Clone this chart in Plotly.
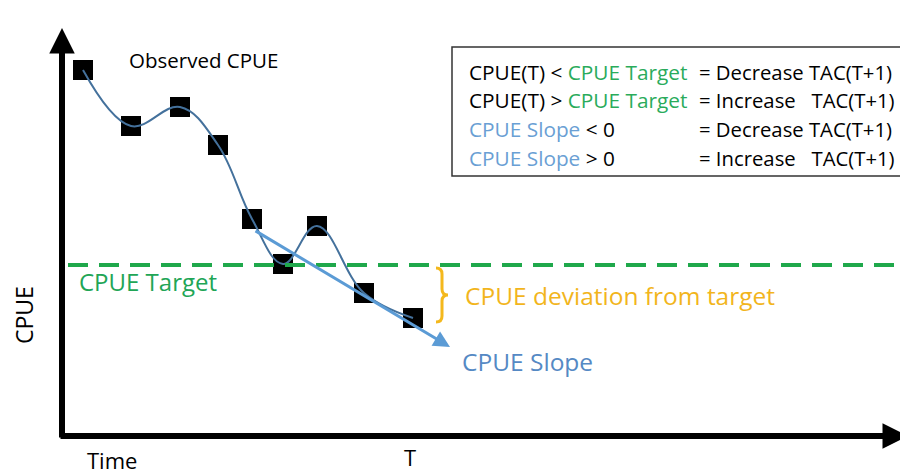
import plotly.graph_objs as go

# observed CPUE series (time position, CPUE value in chart units)
time = [83, 131, 180, 218, 252, 283, 317, 364, 413]
cpue = [406, 350, 369, 331, 257, 212, 250, 183, 158]

cpue_target = 211
# slope arrow from first point of the recent stretch to projection
slope_time = [254, 450]
slope_cpue = [246, 129]
time_now = 410

legend_conditions = ["CPUE(T) &lt; <span style='color:#2aab5b'>CPUE Target</span>",
                     "CPUE(T) &gt; <span style='color:#2aab5b'>CPUE Target</span>",
                     "<span style='color:#6a9fd4'>CPUE Slope</span> &lt; 0",
                     "<span style='color:#6a9fd4'>CPUE Slope</span> &gt; 0"]
legend_actions = ["= Decrease TAC(T+1)",
                  "= Increase&nbsp;&nbsp;&nbsp;TAC(T+1)",
                  "= Decrease TAC(T+1)",
                  "= Increase&nbsp;&nbsp;&nbsp;TAC(T+1)"]

FONT = "Open Sans"
W, H = 908, 476
OFF = 8  # page body margin the plot div sits in

fig = go.Figure()
fig.add_trace(go.Scatter(x=time, y=cpue, mode='markers',
                         marker=dict(symbol='square', size=20, color='black'),
                         hoverinfo='skip'))
fig.add_trace(go.Scatter(x=time, y=cpue, mode='lines',
                         line=dict(shape='spline', smoothing=1.1, color='#44719c', width=2),
                         hoverinfo='skip'))

ann = []
# axes arrows
ann.append(dict(x=62, y=H - 28, ax=62, ay=H - 439, xref='x', yref='y', axref='x', ayref='y',
                text='', showarrow=True, arrowhead=2, arrowsize=0.85, arrowwidth=6, arrowcolor='black'))
ann.append(dict(x=908, y=H - 436, ax=59, ay=H - 436, xref='x', yref='y', axref='x', ayref='y',
                text='', showarrow=True, arrowhead=2, arrowsize=0.85, arrowwidth=6, arrowcolor='black'))
# slope arrow
ann.append(dict(x=slope_time[1], y=slope_cpue[1], ax=slope_time[0], ay=slope_cpue[0],
                xref='x', yref='y', axref='x', ayref='y', text='', showarrow=True,
                arrowhead=2, arrowsize=1.1, arrowwidth=3, arrowcolor='#5b9bd5'))

def label(txt, x, y, size, color='black', xanchor='center', angle=0):
    return dict(x=x, y=y, xref='x', yref='y', text=txt, showarrow=False, xanchor=xanchor,
                yanchor='middle', textangle=angle, font=dict(family=FONT, size=size, color=color))

ann.append(label("Observed CPUE", 203, H - 60, 20.5))
ann.append(label("CPUE Target", 77, H - 281, 24, '#21a556', 'left'))
ann.append(label("CPUE deviation from target", 463, H - 295, 24.5, '#f2b51c', 'left'))
ann.append(label("CPUE Slope", 460, H - 361, 24.5, '#5589c4', 'left'))
ann.append(label("CPUE", 24, H - 315, 23, angle=-90))
ann.append(label("Time", 112, H - 460, 22))
ann.append(label("T", time_now, H - 457, 22))

row_y = [72, 100, 129, 158]
for cond, act, ry in zip(legend_conditions, legend_actions, row_y):
    ann.append(label(cond, 467, H - ry, 20.8, xanchor='left'))
    ann.append(label(act, 697, H - ry, 20.3, xanchor='left'))

shapes = []
shapes.append(dict(type='line', x0=68, x1=908, y0=cpue_target, y1=cpue_target, xref='x', yref='y',
                   line=dict(color='#1fa84b', width=4, dash='20px,11px')))
shapes.append(dict(type='rect', x0=452, x1=905, y0=H - 47, y1=H - 176, xref='x', yref='y',
                   line=dict(color='#333333', width=1.5), fillcolor='rgba(0,0,0,0)'))
# curly bracket for deviation
bt, bm, bb = H - 268, H - 295, H - 322
shapes.append(dict(type='path', xref='x', yref='y',
                   path=(f"M 436,{bt} Q 442,{bt} 442,{bt-6} L 442,{bm+6} Q 442,{bm} 448,{bm} "
                         f"Q 442,{bm} 442,{bm-6} L 442,{bb+6} Q 442,{bb} 436,{bb}"),
                   line=dict(color='#f4b81c', width=3)))

fig.update_layout(width=W, height=H, margin=dict(l=0, r=0, t=0, b=0),
                  paper_bgcolor='white', plot_bgcolor='white', showlegend=False,
                  xaxis=dict(range=[OFF, W + OFF], visible=False, fixedrange=True),
                  yaxis=dict(range=[-OFF, H - OFF], visible=False, fixedrange=True),
                  annotations=ann, shapes=shapes)

fig.write_html("out.html")
